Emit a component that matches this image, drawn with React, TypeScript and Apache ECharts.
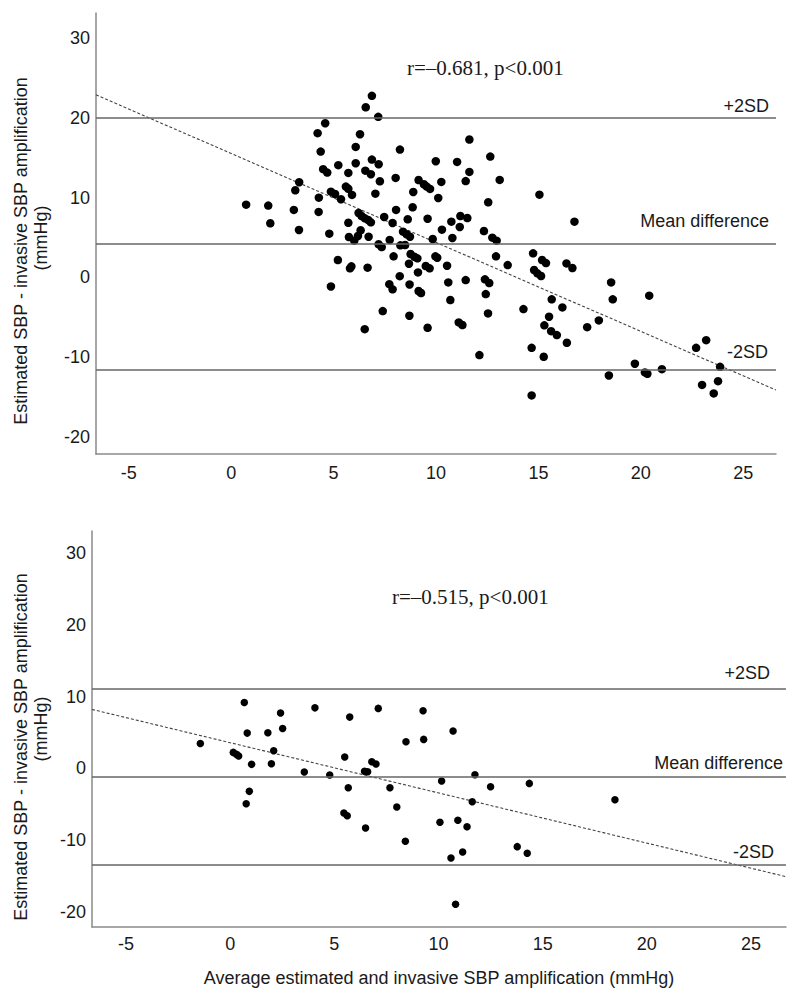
import React, { useEffect, useRef } from "react";
import * as echarts from "echarts";

// ---------- data ----------
const topAvg = [
  6.87, 6.57, 7.18, 4.59, 4.22, 6.29, 6.08, 4.37, 8.24, 11.63,
  6.87, 7.2, 6.08, 5.23, 4.49, 4.69, 5.72, 6.55, 6.82, 7.26,
  8.03, 9.99, 11.03, 11.63, 11.45, 9.15, 9.41, 9.55, 9.71, 10.26,
  10.11, 8.89, 7.04, 5.9, 5.6, 5.72, 3.32, 3.13, 4.87, 5.07,
  5.36, 4.28, 0.73, 1.81, 1.91, 3.06, 3.31, 4.27, 4.79, 6.22,
  6.37, 6.53, 6.69, 6.82, 5.72, 6.32, 5.75, 6.01, 6.19, 6.71,
  7.47, 8.05, 7.88, 8.62, 8.86, 9.59, 8.39, 8.57, 8.73, 7.74,
  7.2, 7.35, 8.26, 8.49, 9.84, 10.29, 10.75, 11.19, 11.53, 11.16,
  10.8, 7.93, 8.76, 8.94, 9.09, 8.68, 9.12, 9.5, 9.69, 9.97,
  10.06, 10.54, 10.6, 11.45, 10.7, 5.21, 5.8, 5.87, 6.66, 8.23,
  7.72, 7.88, 8.71, 9.15, 9.27, 4.87, 7.4, 8.7, 6.52, 9.59,
  11.11, 11.29, 12.12,
  12.65, 13.11, 15.05, 12.55, 16.76, 12.34, 12.75, 12.96, 12.93, 13.5,
  14.74, 15.18, 15.37, 14.79, 14.95, 15.13, 16.37, 16.66, 12.39, 12.6,
  12.43, 12.54, 14.27, 15.65, 16.17, 15.52, 15.29, 15.62, 15.9, 16.39,
  17.38, 17.95, 18.55, 18.63, 20.41, 14.67, 15.26, 14.67, 18.44, 19.71,
  20.2, 20.32, 21.03, 22.7, 23.19, 23.87, 22.99, 23.77, 23.56,
];
const topDiff = [
  22.73, 21.3, 20.1, 19.3, 18.06, 17.93, 16.34, 15.75, 16.0, 17.26,
  14.75, 14.17, 14.3, 14.05, 13.55, 13.12, 13.08, 13.37, 12.92, 12.04,
  12.46, 14.55, 14.46, 13.21, 12.06, 12.19, 11.66, 11.37, 11.08, 11.96,
  9.95, 10.7, 10.49, 10.33, 11.37, 11.1, 11.92, 10.91, 10.74, 10.45,
  9.79, 9.99, 9.11, 8.99, 6.78, 8.45, 5.94, 8.2, 5.48, 8.07,
  7.69, 7.4, 7.19, 6.9, 6.84, 5.9, 5.06, 4.6, 5.19, 5.1,
  7.57, 8.45, 6.82, 7.28, 8.78, 7.35, 5.73, 5.4, 5.1, 4.69,
  4.15, 3.81, 4.02, 4.06, 4.81, 5.98, 6.98, 7.69, 7.44, 6.32,
  4.94, 2.64, 2.93, 2.59, 2.39, 1.72, 0.63, 1.43, 1.14, 2.64,
  2.47, 1.47, -0.62, -0.33, -2.83, 2.18, 1.14, 1.39, 1.22, 0.16,
  -0.84, -1.49, -0.88, -1.7, -1.95, -1.13, -4.21, -4.79, -6.47, -6.3,
  -5.63, -5.96, -9.72,
  15.13, 12.21, 10.36, 9.41, 6.98, 5.81, 4.98, 4.6, 2.64, 1.55,
  3.02, 2.18, 1.8, 0.93, 0.51, 0.18, 1.76, 1.18, -0.24, -0.7,
  -2.08, -4.5, -3.96, -2.74, -3.75, -4.92, -6.0, -6.72, -7.22, -8.18,
  -6.22, -5.38, -0.62, -2.74, -2.28, -8.81, -9.93, -14.77, -12.27, -10.8,
  -11.89, -12.06, -11.48, -8.81, -7.85, -11.19, -13.45, -12.98, -14.52,
];

const botAvg = [
  -1.43, 0.68, 0.82, 0.15, 0.31, 0.41, 1.03, 0.92, 0.77, 1.81,
  2.42, 2.52, 2.09, 1.98, 4.07, 3.56, 4.78, 5.74, 5.5, 5.67,
  5.46, 5.62, 6.5, 7.11, 6.8, 7.0, 6.45, 6.6, 7.67, 8.0,
  8.41, 8.44, 9.26, 9.29, 10.7, 10.15, 11.75, 11.62, 10.07, 10.93,
  11.37, 10.6, 11.16, 10.82, 12.5, 14.36, 18.47, 13.78, 14.26,
];
const botDiff = [
  3.49, 9.2, 4.93, 2.24, 1.96, 1.73, 0.57, -3.19, -4.91, 4.97,
  7.72, 5.58, 2.47, 0.65, 8.45, -0.5, -0.92, 7.16, 1.59, -2.69,
  -6.21, -6.59, -8.3, 8.37, 0.93, 0.61, -0.38, -0.45, -2.69, -5.38,
  -10.15, 3.72, 8.04, 4.05, 5.21, -1.75, -0.88, -4.63, -7.51, -7.23,
  -8.12, -12.48, -11.64, -18.93, -2.55, -2.08, -4.36, -10.9, -11.83,
];

const limitNames = ["+2SD", "Mean difference", "-2SD"];
const topLimits = [19.95, 4.17, -11.6];
const botLimits = [11.05, -1.22, -13.45];

const topFitX = [-6.6, 26.6];
const topFitY = [22.86, -14.1];
const botFitX = [-6.63, 26.68];
const botFitY = [8.23, -15.08];

const xTicks = [-5, 0, 5, 10, 15, 20, 25];
const yTicks = [-20, -10, 0, 10, 20, 30];

const topStat = "r=\u20130.681, p<0.001";
const botStat = "r=\u20130.515, p<0.001";
const yTitle1 = "Estimated SBP - invasive SBP amplification";
const yTitle2 = "(mmHg)";
const xTitle = "Average estimated and invasive SBP amplification (mmHg)";

// ---------- styles ----------
const SANS = "'Liberation Sans', Arial, sans-serif";
const SERIF = "'Liberation Serif', 'Times New Roman', serif";
const TXT = "#1a1a1a";
const topLabelDist = [[7, 3], [7, 14], [8, 9]];
const botLabelDist = [[16, 7], [3, 5], [12, 4]];

function zip(a: number[], b: number[]) {
  return a.map((v, i) => [v, b[i]]);
}

function axisX(gridIndex: number, min: number, max: number, margin: number, withName: boolean) {
  return {
    type: "value",
    gridIndex,
    min,
    max,
    splitLine: { show: false },
    axisTick: { show: false },
    axisLine: { show: true, onZero: false, lineStyle: { color: "#8a8a8a", width: 1.5 } },
    axisLabel: {
      customValues: xTicks,
      margin,
      fontSize: 18,
      fontFamily: SANS,
      color: TXT,
    },
    name: withName ? xTitle : "",
    nameLocation: "middle",
    nameGap: 42,
    nameTextStyle: { fontSize: 18, fontFamily: SANS, color: TXT, verticalAlign: "top" },
  };
}

function axisY(gridIndex: number) {
  return {
    type: "value",
    gridIndex,
    min: -22.1,
    max: 33.1,
    splitLine: { show: false },
    axisTick: { show: false },
    axisLine: { show: true, onZero: false, lineStyle: { color: "#8a8a8a", width: 1.5 } },
    axisLabel: {
      customValues: yTicks,
      margin: 6,
      fontSize: 18,
      fontFamily: SANS,
      color: TXT,
    },
  };
}

function markLines(limits: number[], dists: number[][]) {
  return {
    silent: true,
    symbol: ["none", "none"],
    lineStyle: { type: "solid", color: "#666", width: 1.5 },
    label: {
      show: true,
      position: "insideEndTop",
      formatter: "{b}",
      fontSize: 18,
      fontFamily: SANS,
      color: TXT,
    },
    data: limits.map((v, i) => ({
      yAxis: v,
      name: limitNames[i],
      label: { distance: dists[i] },
    })),
  };
}

export default function App() {
  const ref = useRef<HTMLDivElement>(null);

  useEffect(() => {
    if (!ref.current) return;
    const chart = echarts.init(ref.current, undefined, { renderer: "svg" });
    const option: any = {
      animation: false,
      backgroundColor: "#fff",
      grid: [
        { left: 96, top: 13, width: 680, height: 441 },
        { left: 92, top: 531, width: 694, height: 396 },
      ],
      xAxis: [axisX(0, -6.6, 26.6, 10, false), axisX(1, -6.63, 26.68, 8, true)],
      yAxis: [axisY(0), axisY(1)],
      series: [
        {
          type: "scatter",
          xAxisIndex: 0,
          yAxisIndex: 0,
          symbolSize: 8.5,
          itemStyle: { color: "#000", opacity: 1 },
          data: zip(topAvg, topDiff),
          markLine: markLines(topLimits, topLabelDist),
          z: 3,
        },
        {
          type: "line",
          xAxisIndex: 0,
          yAxisIndex: 0,
          showSymbol: false,
          symbol: "none",
          lineStyle: { color: "#444", width: 1.1, type: [3, 2] },
          data: zip(topFitX, topFitY),
          z: 2,
        },
        {
          type: "scatter",
          xAxisIndex: 1,
          yAxisIndex: 1,
          symbolSize: 7.5,
          itemStyle: { color: "#000", opacity: 1 },
          data: zip(botAvg, botDiff),
          markLine: markLines(botLimits, botLabelDist),
          z: 3,
        },
        {
          type: "line",
          xAxisIndex: 1,
          yAxisIndex: 1,
          showSymbol: false,
          symbol: "none",
          lineStyle: { color: "#444", width: 1.1, type: [3, 2] },
          data: zip(botFitX, botFitY),
          z: 2,
        },
      ],
      graphic: [
        {
          type: "text",
          x: 407,
          y: 68,
          style: { text: topStat, font: `21px ${SERIF}`, fill: TXT, textAlign: "left", textVerticalAlign: "middle" },
        },
        {
          type: "text",
          x: 392,
          y: 597,
          style: { text: botStat, font: `21px ${SERIF}`, fill: TXT, textAlign: "left", textVerticalAlign: "middle" },
        },
        {
          type: "text",
          x: 21,
          y: 251,
          rotation: Math.PI / 2,
          style: { text: yTitle1, font: `18px ${SANS}`, fill: TXT, textAlign: "center", textVerticalAlign: "middle" },
        },
        {
          type: "text",
          x: 41,
          y: 238,
          rotation: Math.PI / 2,
          style: { text: yTitle2, font: `18px ${SANS}`, fill: TXT, textAlign: "center", textVerticalAlign: "middle" },
        },
        {
          type: "text",
          x: 21,
          y: 747,
          rotation: Math.PI / 2,
          style: { text: yTitle1, font: `18px ${SANS}`, fill: TXT, textAlign: "center", textVerticalAlign: "middle" },
        },
        {
          type: "text",
          x: 41,
          y: 729,
          rotation: Math.PI / 2,
          style: { text: yTitle2, font: `18px ${SANS}`, fill: TXT, textAlign: "center", textVerticalAlign: "middle" },
        },
      ],
    };
    chart.setOption(option);
    return () => chart.dispose();
  }, []);

  return (
    <div
      ref={ref}
      style={{ position: "absolute", left: 0, top: 0, width: 800, height: 1002, background: "#fff" }}
    />
  );
}
